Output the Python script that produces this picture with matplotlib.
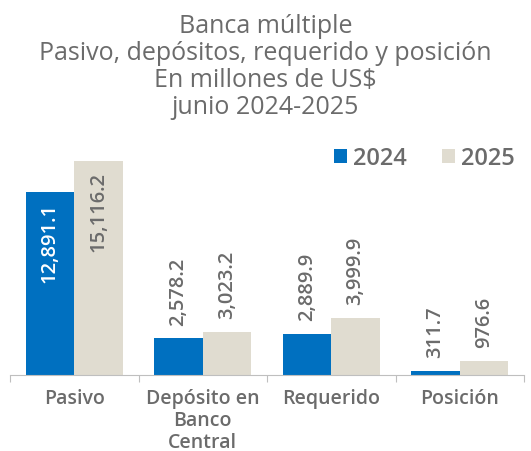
import numpy as np
import matplotlib.pyplot as plt

categories = ['Pasivo', 'Depósito en\nBanco\nCentral', 'Requerido', 'Posición']
vals_2024 = [12891.1, 2578.2, 2889.9, 311.7]
vals_2025 = [15116.2, 3023.2, 3999.9, 976.6]
title_lines = ['Banca múltiple', 'Pasivo, depósitos, requerido y posición',
               'En millones de US$', 'junio 2024-2025']

blue = '#0070C0'
beige = '#E0DCD0'
gray = '#6b6b6b'

plt.rcParams['font.family'] = ['Open Sans', 'DejaVu Sans']

fig = plt.figure(figsize=(5.31, 4.52), dpi=100)
ax = fig.add_axes([10/531, 76/452, 514/531, 236/452])

x = np.arange(len(categories))
w = 0.378
b1 = ax.bar(x - w/2, vals_2024, w, color=blue, label='2024')
b2 = ax.bar(x + w/2, vals_2025, w, color=beige, label='2025')

ax.set_xlim(-0.5, len(categories) - 0.5)
ax.set_ylim(0, 16670)

# value labels: inside the tall bars, above the short ones
for bars, vals, inner_col in ((b1, vals_2024, 'white'), (b2, vals_2025, gray)):
    for rect, v in zip(bars, vals):
        cx = rect.get_x() + rect.get_width()/2
        txt = f'{v:,.1f}'
        if v > 10000:
            ax.annotate(txt, (cx, v), xytext=(0, -7), textcoords='offset points',
                        rotation=90, ha='center', va='top', color=inner_col,
                        fontsize=14.5, fontweight='semibold')
        else:
            ax.annotate(txt, (cx, v), xytext=(0, 10), textcoords='offset points',
                        rotation=90, ha='center', va='bottom', color=gray,
                        fontsize=14.5, fontweight='semibold')

for s in ('top', 'right', 'left'):
    ax.spines[s].set_visible(False)
ax.spines['bottom'].set_color('#bfbfbf')
ax.set_yticks([])
ax.set_xticks(np.arange(len(categories) + 1) - 0.5)
ax.set_xticklabels([])
ax.tick_params(axis='x', length=5, color='#bfbfbf')
for i, c in enumerate(categories):
    ax.text(i, -0.055, c, transform=ax.get_xaxis_transform(), ha='center', va='top',
            fontsize=14, fontweight='semibold', color=gray, linespacing=1.12)

for k, line in enumerate(title_lines):
    fig.text(0.5, 1 - (33 + 27*k)/452, line, ha='center', va='baseline',
             fontsize=18, color=gray)

leg = ax.legend(loc='center right', bbox_to_anchor=(505/514, 217/236), ncol=2,
                frameon=False, fontsize=17, handlelength=0.55, handleheight=0.55,
                handletextpad=0.25, columnspacing=1.5, borderpad=0, borderaxespad=0)
for t in leg.get_texts():
    t.set_color(gray)
    t.set_fontweight('semibold')

fig.savefig('out.png', dpi=100)
